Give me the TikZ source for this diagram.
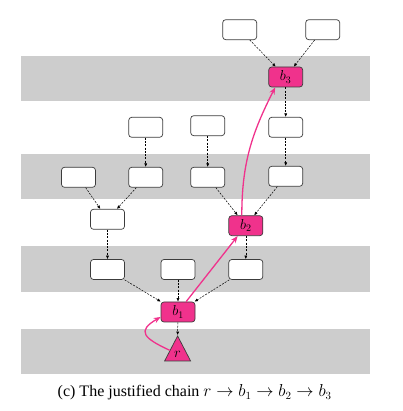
\documentclass[tikz,border=0pt]{standalone}
\usepackage{fontspec}
\setmainfont{Liberation Serif}
\usetikzlibrary{arrows.meta,shapes.geometric}
\definecolor{pinkc}{RGB}{240,50,140}
\definecolor{bandc}{RGB}{205,205,205}
\definecolor{edgec}{RGB}{60,60,60}
\begin{document}
\begin{tikzpicture}[x=1pt,y=1pt,
  blk/.style={draw=edgec, rounded corners=3pt, minimum width=34pt, minimum height=20pt, inner sep=0pt, line width=0.7pt, fill=white, font=\fontsize{14}{16}\selectfont},
  hl/.style={blk, fill=pinkc},
  tri/.style={draw=edgec, fill=pinkc, line width=0.7pt, isosceles triangle, shape border rotate=90, isosceles triangle stretches, minimum width=26pt, minimum height=25pt, inner sep=0pt, font=\fontsize{14}{16}\selectfont},
  dep/.style={dash pattern=on 2pt off 1.3pt, line width=0.5pt, draw=black, -{Latex[length=3.5pt,width=3pt]}},
  jus/.style={draw=pinkc, line width=1.3pt, -{Stealth[length=7pt,width=5.5pt]}},
  band/.style={fill=bandc, draw=none}
]
\useasboundingbox (0,0) rectangle (402,411);
% bands
\fill[band] (21,310) rectangle (370,355.3);
\fill[band] (21,211.7) rectangle (370,257.3);
\fill[band] (21,119.3) rectangle (370,165);
\fill[band] (21,37) rectangle (370,82.3);
% nodes
\node[blk] (A) at (239.7,381.3) {};
\node[blk] (B) at (322.7,381.3) {};
\node[hl] (b3) at (285.7,334) {$b_3$};
\node[blk] (n21) at (145.7,283.7) {};
\node[blk] (n22) at (207.7,285.3) {};
\node[blk] (n23) at (285.7,283.7) {};
\node[blk] (n31) at (78.5,233.7) {};
\node[blk] (n32) at (145.7,233.7) {};
\node[blk] (n33) at (207.7,233.7) {};
\node[blk] (n34) at (285.7,234.7) {};
\node[blk] (n41) at (107.5,191.7) {};
\node[hl] (b2) at (245.8,185.3) {$b_2$};
\node[blk] (n51) at (107.5,141.5) {};
\node[blk] (n52) at (178,141.5) {};
\node[blk] (n53) at (245.8,141.5) {};
\node[hl] (b1) at (178,99) {$b_1$};
\node[tri] (r) at (177.6,57) {$r$};
% dependency edges
\draw[dep] (A) -- (b3);
\draw[dep] (B) -- (b3);
\draw[dep] (b3) -- (n23);
\draw[dep] (n21) -- (n32);
\draw[dep] (n22) -- (n33);
\draw[dep] (n23) -- (n34);
\draw[dep] (n31) -- (n41);
\draw[dep] (n32) -- (n41);
\draw[dep] (n33) -- (b2);
\draw[dep] (n34) -- (b2);
\draw[dep] (n41) -- (n51);
\draw[dep] (b2) -- (n53);
\draw[dep] (n51) -- (b1);
\draw[dep] (n52) -- (b1);
\draw[dep] (n53) -- (b1);
\draw[dep] (b1) -- (r.apex);
% justification chain
\draw[jus] (r) to[out=155,in=210,looseness=2.1] ([yshift=-5pt]b1.west);
\draw[jus] (b1) -- (b2);
\draw[jus] ([xshift=-4pt]b2.north) to[out=90,in=243] ([xshift=-10.5pt]b3.south);
% caption
\node[anchor=base, font=\fontsize{16}{19}\selectfont, inner sep=0pt] (cap) at (194.7,14.3) {(c) The justified chain $r \to b_1 \to b_2 \to b_3$};
\end{tikzpicture}
\end{document}
